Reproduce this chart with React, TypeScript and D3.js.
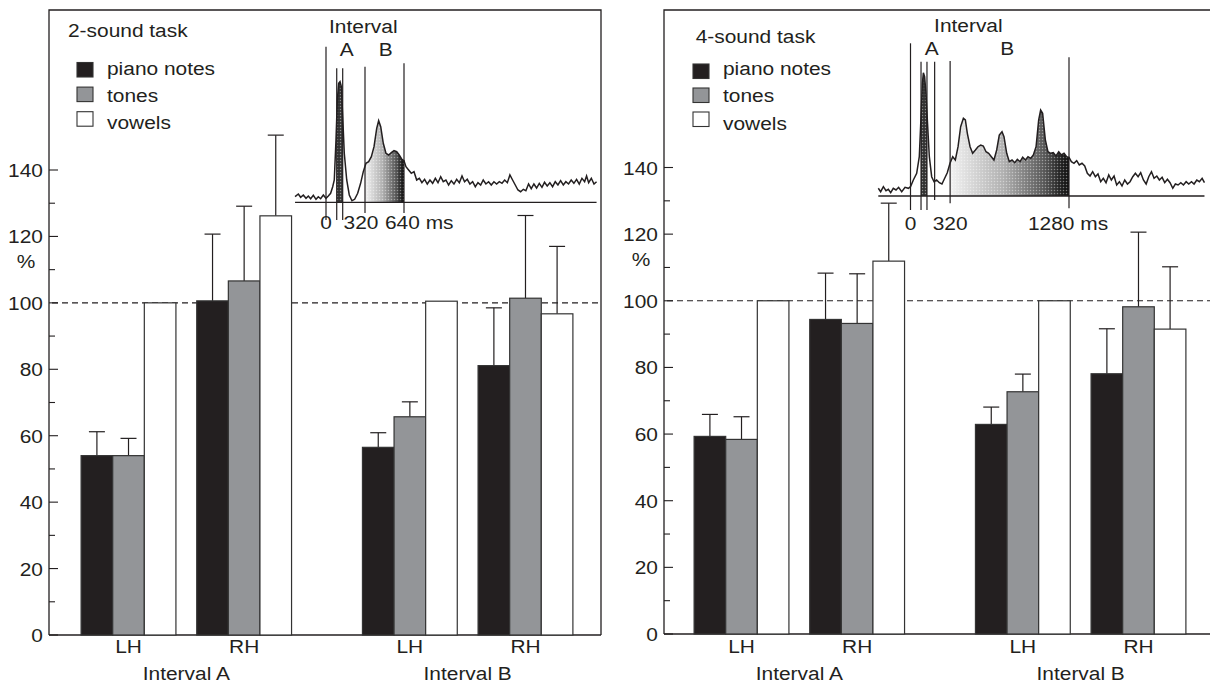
import React from "react";
import * as d3 from "d3";

// ---- data ----
const intervals = ["Interval A", "Interval B"];
const hands = ["LH", "RH"];
const series = ["piano notes", "tones", "vowels"];
const yTicks = [0, 20, 40, 60, 80, 100, 120, 140];

// order of each array: [A-LH, A-RH, B-LH, B-RH]
const twoPiano = [54, 100.6, 56.5, 81.1];
const twoPianoErr = [7.2, 20.1, 4.4, 17.4];
const twoTones = [54, 106.6, 65.7, 101.4];
const twoTonesErr = [5.2, 22.5, 4.5, 24.9];
const twoVowels = [100, 126.2, 100.5, 96.7];
const twoVowelsErr = [0, 24.3, 0, 20.3];

const fourPiano = [59.3, 94.4, 62.9, 78.1];
const fourPianoErr = [6.6, 13.9, 5.2, 13.5];
const fourTones = [58.4, 93.2, 72.7, 98.2];
const fourTonesErr = [6.8, 14.9, 5.3, 22.4];
const fourVowels = [100, 111.9, 100, 91.5];
const fourVowelsErr = [0, 17.4, 0, 18.7];

// inset waveforms: [ms, amplitude]
const twoWave: [number, number][] = [
  [-254, 5.6], [-227, 8.3], [-208, 5], [-186, 7.3], [-164, 4], [-145, 6.3], [-126, 3.6], [-104, 7],
  [-82, 3], [-63, 5.6], [-44, 3.6], [-22, 7.3], [0, 4], [19, 6.3], [38, 9], [55, 15.6], [68, 22.3],
  [82, 62.3], [93, 102.3], [104, 119], [115, 120.6], [126, 115.6], [137, 85.6], [150, 49], [170, 22.3],
  [191, 7.3], [213, 1.6], [235, 3], [260, 9], [284, 19], [306, 30.6], [328, 39], [350, 40.6], [372, 45.6],
  [394, 55.6], [416, 74], [432, 81.6], [449, 75.6], [470, 59], [492, 49], [514, 47.3], [536, 49.6],
  [558, 51.6], [580, 50.6], [601, 47.3], [623, 43], [640, 41.6], [656, 35.6], [678, 32.3], [700, 29],
  [722, 30.6], [744, 22.3], [766, 24], [787, 19.6], [809, 23], [831, 18.3], [853, 22.3], [875, 19],
  [897, 24], [919, 19.6], [941, 25.6], [962, 20.6], [984, 22.3], [1006, 17.3], [1028, 21.6], [1050, 18.3],
  [1072, 23], [1094, 19.6], [1116, 26.3], [1137, 20.6], [1159, 23], [1181, 18.3], [1203, 20.6], [1225, 15.6],
  [1247, 19.6], [1269, 17.3], [1290, 22.3], [1312, 18.3], [1334, 20.6], [1356, 17.3], [1378, 20.6],
  [1400, 18.3], [1422, 20.6], [1444, 19], [1466, 22.3], [1488, 19.6], [1509, 27.3], [1531, 22.3],
  [1553, 17.3], [1575, 12.3], [1597, 10.6], [1619, 13], [1640, 11.6], [1662, 18.3], [1684, 13.6],
  [1706, 18.3], [1728, 14.3], [1750, 19], [1772, 15], [1793, 20], [1815, 16.3], [1837, 19.6], [1859, 15.6],
  [1881, 20.6], [1903, 17.3], [1925, 21.6], [1947, 17.3], [1968, 20.6], [1990, 18.3], [2012, 22.3],
  [2034, 19], [2056, 23], [2078, 18.3], [2100, 24], [2122, 20.6], [2138, 26.3], [2155, 19.6], [2177, 24],
  [2199, 18.3], [2220, 20.6],
];

const fourWave: [number, number][] = [
  [-260, 7.7], [-241, 4.3], [-219, 9.3], [-198, 5.3], [-179, 6.7], [-160, 3.3], [-139, 7.7], [-117, 6],
  [-96, 8.7], [-71, 4.3], [-44, 8.7], [-17, 7.7], [0, 9.3], [23, 16], [50, 22.7], [71, 39.3], [85, 79.3],
  [96, 112.7], [104, 123.3], [114, 119.3], [125, 102.7], [136, 76], [152, 39.3], [171, 19.3], [190, 14.3],
  [211, 16], [233, 13.3], [254, 12], [276, 17.7], [297, 23.3], [319, 32.7], [341, 39.3], [362, 36],
  [384, 49.3], [405, 69.3], [427, 77.7], [443, 76], [459, 62.7], [481, 49.3], [502, 42.7], [524, 46],
  [545, 49.3], [567, 51], [588, 50], [610, 44.3], [631, 42.7], [653, 39.3], [674, 36], [696, 46], [717, 61],
  [739, 64.3], [755, 59.3], [777, 42.7], [798, 34.3], [820, 36], [842, 33.3], [863, 36.7], [885, 34.3],
  [906, 38.7], [928, 36], [949, 39.3], [971, 37.7], [992, 41], [1014, 49.3], [1035, 76], [1051, 86],
  [1067, 82.7], [1089, 56], [1110, 44.3], [1132, 42.7], [1153, 43.3], [1175, 40], [1197, 44.3], [1218, 41],
  [1240, 42.7], [1261, 39.3], [1280, 38.7], [1299, 34.3], [1320, 32.7], [1342, 35.3], [1363, 31],
  [1385, 32.7], [1407, 30], [1428, 22.7], [1450, 20], [1471, 24.3], [1493, 19.3], [1514, 22], [1536, 14.3],
  [1557, 17.7], [1579, 13.3], [1601, 21], [1622, 16], [1644, 20], [1665, 11], [1687, 14.3], [1708, 10],
  [1730, 16], [1752, 12], [1773, 14.3], [1795, 19.3], [1816, 22.7], [1838, 19.3], [1859, 23.3], [1881, 16],
  [1903, 12], [1924, 19.3], [1946, 24.3], [1967, 17.7], [1989, 20], [2010, 16], [2032, 18.7], [2053, 13.3],
  [2075, 16.7], [2096, 13.3], [2118, 7.7], [2139, 12], [2161, 11], [2183, 13.3], [2204, 11], [2226, 14.3],
  [2247, 12], [2269, 14.3], [2290, 12], [2312, 16], [2333, 14.3], [2355, 17.7], [2374, 13.3],
];

const twoMarkers = [0, 88, 137, 320, 640];
const twoIntervalA = [88, 137];
const twoIntervalB = [320, 640];
const fourMarkers = [0, 85, 133, 195, 320, 1280];
const fourIntervalA = [85, 133];
const fourIntervalB = [320, 1280];

// ---- style ----
const INK = "#231f20";
const FILLS = ["#231f20", "#939598", "#ffffff"];
const FONT = "'Liberation Sans', Arial, sans-serif";
const SX = 1.1;
const FS = 19;

function T({ x, y, anchor = "start", size = FS, children }: any) {
  return (
    <text
      transform={`translate(${x},${y}) scale(${SX},1)`}
      textAnchor={anchor}
      fontFamily={FONT}
      fontSize={size}
      fill={INK}
    >
      {children}
    </text>
  );
}

function Panel(props: any) {
  const { id, axisX, xRange, yRange, top, rightEdge, means, errs, title, legend, inset } = props;
  const y = d3.scaleLinear().domain([0, 140]).range(yRange);
  const outer = d3.scaleBand().domain(intervals).range(xRange).paddingInner(0.252).paddingOuter(0.107);
  const inner = d3.scaleBand().domain(hands).range([0, outer.bandwidth()]).paddingInner(0.18);
  const ser = d3.scaleBand().domain(series).range([0, inner.bandwidth()]);
  const x0 = axisX;
  const base = y(0);

  const bars: any[] = [];
  intervals.forEach((iv, ii) =>
    hands.forEach((h, hi) =>
      series.forEach((s, si) => {
        const k = ii * 2 + hi;
        const bx = (outer(iv) as number) + (inner(h) as number) + (ser(s) as number);
        bars.push({ bx, v: means[si][k], e: errs[si][k], si, key: `${iv}-${h}-${s}` });
      })
    )
  );
  const bw = ser.bandwidth();

  // inset
  const t = d3.scaleLinear().domain(inset.tDomain).range(inset.tRange);
  const a = d3.scaleLinear().domain([0, 100]).range([inset.base, inset.base - 100]);
  const line = d3.line<[number, number]>().x((d) => t(d[0])).y((d) => a(d[1]));
  const area = d3
    .area<[number, number]>()
    .x((d) => t(d[0]))
    .y0(inset.base)
    .y1((d) => a(d[1]));
  const wave = inset.wave as [number, number][];

  return (
    <g>
      <defs>
        <linearGradient id={`${id}-gB`} gradientUnits="userSpaceOnUse" x1={t(inset.ivB[0])} x2={t(inset.ivB[1])} y1={0} y2={0}>
          <stop offset="0" stopColor="#f2f2f2" />
          <stop offset="0.45" stopColor="#b0b0b0" />
          <stop offset="0.8" stopColor="#555" />
          <stop offset="0.93" stopColor="#222" />
          <stop offset="1" stopColor="#111" />
        </linearGradient>
        <pattern id={`${id}-dots`} width={3} height={3} patternUnits="userSpaceOnUse">
          <circle cx={1.5} cy={1.5} r={0.75} fill="#fff" opacity={0.75} />
        </pattern>
        <clipPath id={`${id}-cA`}>
          <rect x={t(inset.ivA[0])} y={0} width={t(inset.ivA[1]) - t(inset.ivA[0])} height={400} />
        </clipPath>
        <clipPath id={`${id}-cB`}>
          <rect x={t(inset.ivB[0])} y={0} width={t(inset.ivB[1]) - t(inset.ivB[0])} height={400} />
        </clipPath>
      </defs>

      {/* frame */}
      <path d={`M${x0},${base}V${top}H${rightEdge}V${base}`} fill="none" stroke={INK} strokeWidth={1.3} />
      <line x1={x0} x2={rightEdge} y1={base} y2={base} stroke={INK} strokeWidth={1.3} />

      {/* y ticks */}
      {d3.range(0, 141, 10).map((v) => (
        <line key={v} x1={x0} x2={x0 + (v % 20 === 0 ? 9 : 6)} y1={y(v)} y2={y(v)} stroke={INK} strokeWidth={1.1} />
      ))}
      {yTicks.map((v) => (
        <T key={v} x={x0 - 6} y={y(v) + 7} anchor="end">{v}</T>
      ))}
      <T x={x0 - 23} y={y(120) + 32} anchor="middle">%</T>

      {/* reference line */}
      <line x1={x0 + 3} x2={rightEdge} y1={y(100)} y2={y(100)} stroke={INK} strokeWidth={1.1} strokeDasharray="6,4" />

      {/* bars */}
      {bars.map((b) => (
        <g key={b.key}>
          {b.e > 0 && (
            <g stroke={INK} strokeWidth={1.2}>
              <line x1={b.bx + bw / 2} x2={b.bx + bw / 2} y1={y(b.v)} y2={y(b.v + b.e)} />
              <line x1={b.bx + bw / 2 - 8} x2={b.bx + bw / 2 + 8} y1={y(b.v + b.e)} y2={y(b.v + b.e)} />
            </g>
          )}
          <rect x={b.bx} y={y(b.v)} width={bw} height={base - y(b.v)} fill={FILLS[b.si]} stroke="#333" strokeWidth={1.2} />
        </g>
      ))}

      {/* x labels */}
      {intervals.map((iv) => (
        <g key={iv}>
          {hands.map((h) => (
            <T key={h} x={(outer(iv) as number) + (inner(h) as number) + inner.bandwidth() / 2} y={653} anchor="middle">{h}</T>
          ))}
          <T x={(outer(iv) as number) + outer.bandwidth() / 2} y={680} anchor="middle">{iv}</T>
        </g>
      ))}

      {/* legend */}
      <T x={title.x} y={title.y}>{title.text}</T>
      {series.map((s, i) => (
        <g key={s}>
          <rect x={legend.x} y={legend.sqY + i * legend.sqStep} width={16} height={14.5} fill={FILLS[i]} stroke="#333" strokeWidth={1.1} />
          <T x={legend.x + 30} y={legend.txY + i * legend.txStep}>{s}</T>
        </g>
      ))}

      {/* inset waveform */}
      <path d={area(wave) as string} fill="#333" clipPath={`url(#${id}-cA)`} />
      <path d={area(wave) as string} fill={`url(#${id}-dots)`} clipPath={`url(#${id}-cA)`} opacity={0.6} />
      <path d={area(wave) as string} fill={`url(#${id}-gB)`} clipPath={`url(#${id}-cB)`} />
      <path d={area(wave) as string} fill={`url(#${id}-dots)`} clipPath={`url(#${id}-cB)`} opacity={0.55} />
      <path d={line(wave) as string} fill="none" stroke={INK} strokeWidth={1.5} />
      <line x1={t(wave[0][0])} x2={t(wave[wave.length - 1][0])} y1={inset.base} y2={inset.base} stroke={INK} strokeWidth={1.3} />
      {inset.markers.map((m: number, i: number) => (
        <line key={i} x1={t(m)} x2={t(m)} y1={inset.markTop[i]} y2={inset.markBottom[i]} stroke={INK} strokeWidth={1.2} />
      ))}
      <T x={t(inset.labelT.interval)} y={inset.base - inset.intervalDy} anchor="middle">Interval</T>
      <T x={t(inset.labelT.A)} y={inset.base - inset.abDy} anchor="middle">A</T>
      <T x={t(inset.labelT.B)} y={inset.base - inset.abDy} anchor="middle">B</T>
      <T x={t(0)} y={inset.base + inset.tickDy} anchor="middle">0</T>
      <T x={t(320) + inset.midDx} y={inset.base + inset.tickDy} anchor="middle">320</T>
      <T x={t(inset.tDomain[1]) + inset.endDx} y={inset.base + inset.tickDy}>{`${inset.tDomain[1]} ms`}</T>
    </g>
  );
}

export default function App() {
  return (
    <div style={{ position: "absolute", left: 0, top: 0 }}>
      <svg width={1210} height={688} style={{ display: "block", background: "#fff" }}>
        <Panel
          id="two"
          axisX={49}
          xRange={[51, 603]}
          yRange={[635, 170]}
          top={10}
          rightEdge={601}
          means={[twoPiano, twoTones, twoVowels]}
          errs={[twoPianoErr, twoTonesErr, twoVowelsErr]}
          title={{ x: 68, y: 37, text: "2-sound task" }}
          legend={{ x: 77, sqY: 62.5, sqStep: 24.6, txY: 75, txStep: 26.8 }}
          inset={{
            wave: twoWave,
            tDomain: [0, 640],
            tRange: [326, 404],
            base: 202.3,
            ivA: twoIntervalA,
            ivB: twoIntervalB,
            markers: twoMarkers,
            markTop: [46.7, 68.3, 68.3, 66.7, 63.3],
            markBottom: [220, 220, 220, 213, 213],
            labelT: { interval: 306, A: 170, B: 490 },
            intervalDy: 169,
            abDy: 146,
            tickDy: 27,
            midDx: -4,
            endDx: -19,
          }}
        />
        <Panel
          id="four"
          axisX={664}
          xRange={[664, 1216]}
          yRange={[634, 167.5]}
          top={10}
          rightEdge={1216}
          means={[fourPiano, fourTones, fourVowels]}
          errs={[fourPianoErr, fourTonesErr, fourVowelsErr]}
          title={{ x: 695.7, y: 43, text: "4-sound task" }}
          legend={{ x: 693, sqY: 64, sqStep: 24, txY: 75, txStep: 27.3 }}
          inset={{
            wave: fourWave,
            tDomain: [0, 1280],
            tRange: [910.5, 1069],
            base: 196,
            ivA: fourIntervalA,
            ivB: fourIntervalB,
            markers: fourMarkers,
            markTop: [43.3, 61.7, 61.7, 61.7, 61, 57.3],
            markBottom: [210, 210, 210, 200, 203.3, 208.3],
            labelT: { interval: 467, A: 171, B: 782 },
            intervalDy: 164,
            abDy: 141,
            tickDy: 34,
            midDx: 0,
            endDx: -41,
          }}
        />
      </svg>
    </div>
  );
}
